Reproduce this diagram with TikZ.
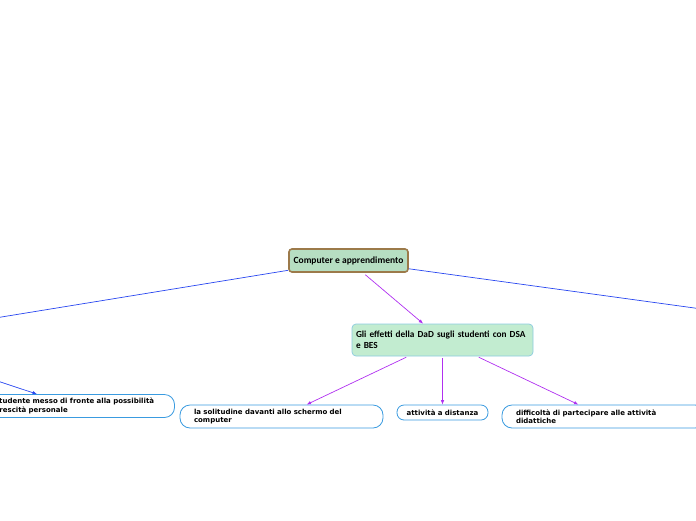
\documentclass[tikz,border=0pt]{standalone}
\usepackage{fontspec}
\setmainfont{DejaVu Sans}
\newfontfamily\topfont{Carlito}
\usetikzlibrary{positioning, arrows.meta}
\definecolor{rootfill}{HTML}{B6DEC2}
\definecolor{rootline}{HTML}{9C7A4A}
\definecolor{mainfill}{HTML}{C2ECD0}
\definecolor{mainline}{HTML}{8CCBE0}
\definecolor{leafline}{HTML}{3A9BE0}
\definecolor{bluelink}{HTML}{2846F0}
\definecolor{purplelink}{HTML}{B030F0}

\begin{document}
\begin{tikzpicture}[x=1pt, y=-1pt,
  root/.style={rectangle, draw=rootline, line width=1.6pt, rounded corners=3pt, fill=rootfill, minimum width=119pt, minimum height=23pt, inner sep=2pt, font=\topfont\bfseries\fontsize{9.5}{11}\selectfont},
  topic/.style={rectangle, draw=mainline, line width=0.7pt, rounded corners=4pt, fill=mainfill, text width=173pt, minimum height=32pt, inner xsep=4pt, inner ysep=3pt, align=left, font=\topfont\bfseries\fontsize{9.3}{11.5}\selectfont},
  leaf/.style={rectangle, draw=leafline, line width=0.8pt, rounded corners=10pt, fill=white, text width=175pt, minimum height=23pt, inner xsep=14pt, inner ysep=2pt, align=left, font=\bfseries\fontsize{7}{8.3}\selectfont},
  shortleaf/.style={leaf, text width=79pt, inner xsep=6pt, minimum height=15pt, rounded corners=7pt, align=center},
  blueline/.style={bluelink, line width=0.7pt},
  purplearrow/.style={-{Latex[length=4.5pt,width=3.5pt]}, purplelink, line width=0.7pt, shorten <=2pt}
]
  \useasboundingbox (0,0) rectangle (696,520);

  \node[root] (comp) at (348.5,260.5) {Computer e apprendimento};
  \node[topic] (dad) at (442.5,340) {Gli effetti della DaD sugli studenti con DSA\\e BES};

  \node[leaf] (crescita) at (73,406) {lo studente messo di fronte alla possibilità\\di crescità personale};
  \node[leaf] (solitudine) at (281.5,416.5) {la solitudine davanti allo schermo del\\computer};
  \node[shortleaf] (distanza) at (442.5,412.5) {attività a distanza};
  \node[leaf] (difficolta) at (603.5,416.5) {difficoltà di partecipare alle attività\\didattiche};

  % free ends of the links that leave the page
  \coordinate (offleft) at (-60,327);
  \coordinate (offright) at (760,317);
  \coordinate (offsource) at (-60,362);

  \draw[blueline] (comp) -- (offleft);
  \draw[blueline] (comp) -- (offright);
  \draw[blueline, -{Latex[length=4.5pt,width=3.5pt]}] (offsource) -- (crescita);

  \draw[purplearrow, shorten <=3pt] (comp) -- (dad);
  \foreach \c in {solitudine,distanza,difficolta} {
    \draw[purplearrow] (dad) -- (\c);
  }
\end{tikzpicture}
\end{document}
